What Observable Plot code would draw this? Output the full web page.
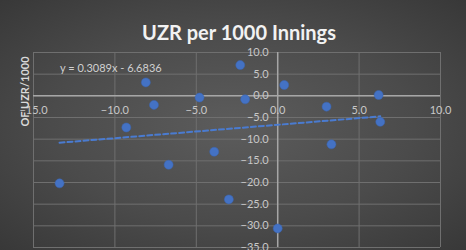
<!DOCTYPE html>
<html><head><meta charset="utf-8">
<script src="https://cdn.jsdelivr.net/npm/d3@7"></script>
<script src="https://cdn.jsdelivr.net/npm/@observablehq/plot@0.6"></script>
<style>
html,body{margin:0;padding:0;background:#3a3a3a;}
#chart svg{display:block;}
</style>
</head><body><div id="chart"></div>
<script>
const xValues = [-13.4, -9.3, -8.1, -7.6, -6.7, -4.8, -3.9, -3.0, -2.3, -2.0, 0.0, 0.4, 3.0, 3.3, 6.2, 6.3];
const yValues = [-20.2, -7.3, 3.1, -2.1, -15.9, -0.4, -12.9, -23.9, 7.1, -0.8, -30.6, 2.5, -2.5, -11.2, 0.2, -6.0];
const slope = 0.3089;
const intercept = -6.6836;
const xTicks = [-15, -10, -5, 0, 5, 10];
const yTicks = [10, 5, 0, -5, -10, -15, -20, -25, -30, -35];
const title = "UZR per 1000 Innings";
const yLabel = "OF UZR/1000";
const equation = "y = 0.3089x - 6.6836";

const points = xValues.map((x, i) => ({x, y: yValues[i]}));
const xMin = d3.min(xValues), xMax = d3.max(xValues);
const trend = [xMin, xMax].map(x => ({x, y: slope * x + intercept}));
const fmt = d3.format(".1f");

const chart = Plot.plot({
  width: 466,
  height: 250,
  marginLeft: 33,
  marginRight: 26,
  marginTop: 52,
  marginBottom: 3,
  x: {domain: [-15, 10], axis: null},
  y: {domain: [-35, 10], axis: null},
  style: {
    background: "radial-gradient(ellipse at 50% 50%, #5c5c5c 0%, #4b4b4b 55%, #383838 100%)",
    fontFamily: "Lato, 'Open Sans', sans-serif",
    overflow: "visible"
  },
  marks: [
    Plot.ruleX(xTicks, {y1: -35, y2: 10, stroke: "#6f6f6f", strokeWidth: 1}),
    Plot.ruleY(yTicks, {x1: -15, x2: 10, stroke: "#6f6f6f", strokeWidth: 1}),
    Plot.ruleX([0], {y1: -35, y2: 10, stroke: "#a6a6a6", strokeWidth: 1.5}),
    Plot.ruleY([0], {x1: -15, x2: 10, stroke: "#a6a6a6", strokeWidth: 1.5}),
    Plot.text(xTicks, {x: d => d, y: 0, text: d => fmt(d), dy: 15, fill: "#c8c8c8", fontSize: 11}),
    Plot.text(yTicks, {x: 0, y: d => d, text: d => fmt(d), dx: -9, textAnchor: "end", fill: "#c8c8c8", fontSize: 11}),
    Plot.line(trend, {x: "x", y: "y", stroke: "#4a7bd0", strokeWidth: 2, strokeDasharray: "5,3"}),
    Plot.dot(points, {x: "x", y: "y", r: 4.5, fill: "#4472c4", stroke: "#3a64b0", strokeWidth: 0.5}),
    Plot.text([equation], {x: -10.25, y: 6.3, fill: "#d0d0d0", fontSize: 11}),
    Plot.text([title], {frameAnchor: "top", dy: -27, dx: 2, fontSize: 20, fontWeight: "bold", fill: "#f2f2f2", letterSpacing: "0.7px"}),
    Plot.text([yLabel], {frameAnchor: "top-left", dx: -12, dy: 39, rotate: -90, textAnchor: "middle", fontSize: 11, fontWeight: "bold", fill: "#d9d9d9"})
  ]
});
document.getElementById("chart").appendChild(chart);
</script>
</body></html>
